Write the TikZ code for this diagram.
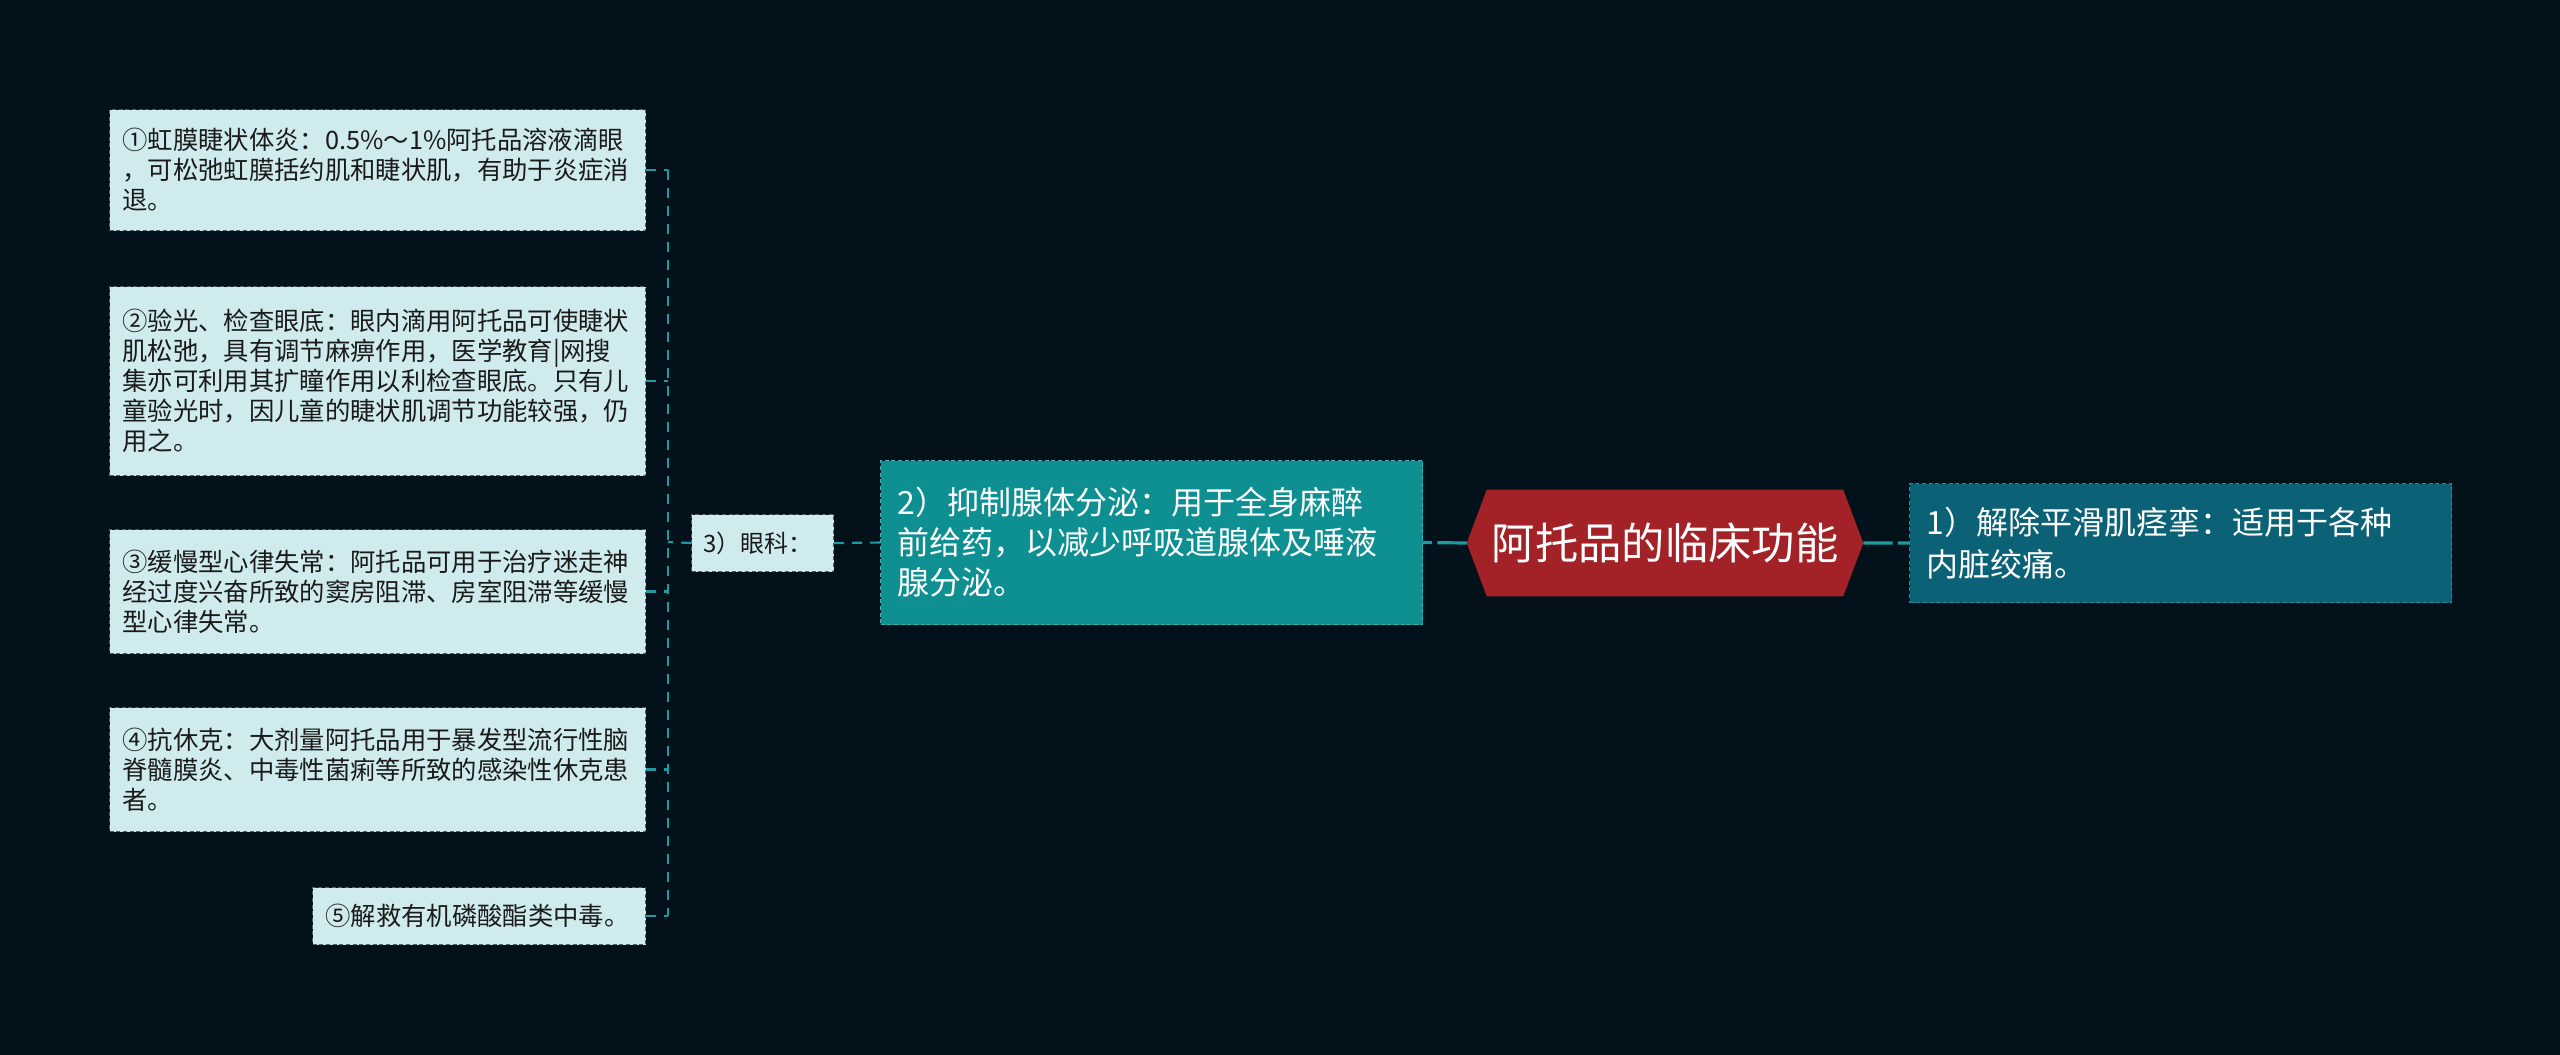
\documentclass[tikz,border=0pt]{standalone}
\usepackage{fontspec}
\setmainfont{Noto Sans CJK SC}
\usetikzlibrary{calc}
\definecolor{bgcol}{HTML}{02111A}
\definecolor{leaffill}{HTML}{CFEBEE}
\definecolor{leafborder}{HTML}{4E6368}
\definecolor{subfill}{HTML}{0E8F91}
\definecolor{subborder}{HTML}{3FB0B2}
\definecolor{onefill}{HTML}{0B6175}
\definecolor{oneborder}{HTML}{2E8799}
\definecolor{hexred}{HTML}{A32228}
\definecolor{conncol}{HTML}{1E9AA0}
\definecolor{leaftext}{HTML}{1A1A1A}
\pgfdeclarelayer{back}
\pgfdeclarelayer{bg}
\pgfsetlayers{back,bg,main}
\tikzset{
  leafbox/.style={draw=leafborder, line width=0.8pt, dash pattern=on 3pt off 2pt,
    fill=leaffill, text=leaftext, anchor=north west, align=left,
    inner xsep=9.75pt, inner ysep=0pt, minimum width=402pt,
    text width=382.5pt,
    font=\fontsize{19pt}{22.5pt}\selectfont},
  smallbox/.style={leafbox, font=\fontsize{18pt}{22pt}\selectfont,
    inner xsep=9pt, minimum width=106.5pt, text width=88.5pt, minimum height=42.75pt},
  subbox/.style={draw=subborder, line width=0.8pt, dash pattern=on 3pt off 2pt,
    fill=subfill, text=white, anchor=north west, align=left,
    inner xsep=12.75pt, inner ysep=0pt, minimum width=406.5pt, text width=381pt,
    font=\fontsize{24pt}{30pt}\selectfont},
  onebox/.style={subbox, draw=oneborder, fill=onefill,
    font=\fontsize{24pt}{32pt}\selectfont},
  centrebox/.style={text=white, inner sep=0pt, minimum width=267pt, minimum height=79.5pt,
    font=\fontsize{32.5pt}{36pt}\selectfont},
  conn/.style={draw=conncol, line width=1.6pt, dash pattern=on 7.5pt off 6pt},
  mainconn/.style={draw=conncol, line width=2.4pt, dash pattern=on 22pt off 4pt},
}
\begin{document}
\begin{tikzpicture}[x=0.75pt,y=-0.75pt]
\begin{pgfonlayer}{back}
\fill[bgcol] (0,0) rectangle (2560,1055);
\end{pgfonlayer}
\useasboundingbox (0,0) rectangle (2560,1055);

% leaves
\node[leafbox, minimum height=90.75pt] (B1) at (109,109)
  {①虹膜睫状体炎：0.5\%～1\%阿托品溶液滴眼\\，可松弛虹膜括约肌和睫状肌，有助于炎症消\\退。};
\node[leafbox, minimum height=141.75pt] (B2) at (109,286)
  {②验光、检查眼底：眼内滴用阿托品可使睫状\\肌松弛，具有调节麻痹作用，医学教育|网搜\\集亦可利用其扩瞳作用以利检查眼底。只有儿\\童验光时，因儿童的睫状肌调节功能较强，仍\\用之。};
\node[leafbox, minimum height=93pt] (B3) at (109,529)
  {③缓慢型心律失常：阿托品可用于治疗迷走神\\经过度兴奋所致的窦房阻滞、房室阻滞等缓慢\\型心律失常。};
\node[leafbox, minimum height=93pt] (B4) at (109,707)
  {④抗休克：大剂量阿托品用于暴发型流行性脑\\脊髓膜炎、中毒性菌痢等所致的感染性休克患\\者。};
\node[leafbox, minimum height=42.75pt, minimum width=249.75pt, text width=230.25pt] (B5) at (312,887)
  {⑤解救有机磷酸酯类中毒。};

% branch 3
\node[smallbox] (E) at (691,514) {3）眼科：};

% branch 2
\node[subbox, minimum height=123pt] (S2) at (880,460)
  {2）抑制腺体分泌：用于全身麻醉\\前给药，以减少呼吸道腺体及唾液\\腺分泌。};

% centre
\node[centrebox] (C) at (1665,543) {阿托品的临床功能};
\coordinate (Cl) at ($(C.west)+(-20,0)$);
\coordinate (Cr) at ($(C.east)+(20,0)$);
\begin{pgfonlayer}{bg}
\fill[hexred] (Cl) -- (C.north west) -- (C.north east) -- (Cr) -- (C.south east) -- (C.south west) -- cycle;
\end{pgfonlayer}

% branch 1
\node[onebox, minimum height=89.25pt] (S1) at (1909,483)
  {1）解除平滑肌痉挛：适用于各种\\内脏绞痛。};

% connectors
\coordinate (bus) at (668,542);
\draw[mainconn] (Cr) -- (S1.west);
\draw[mainconn] (Cl) -- (S2.east);
\draw[conn] (S2.west) -- (E.east);
\draw[conn] (E.west) -- (bus);
\draw[conn] (B1.east -| bus) -- (B5.east -| bus);
\foreach \b in {B1,B2,B3,B4,B5}
  \draw[conn] (\b.east) -- (\b.east -| bus);
\end{tikzpicture}
\end{document}
